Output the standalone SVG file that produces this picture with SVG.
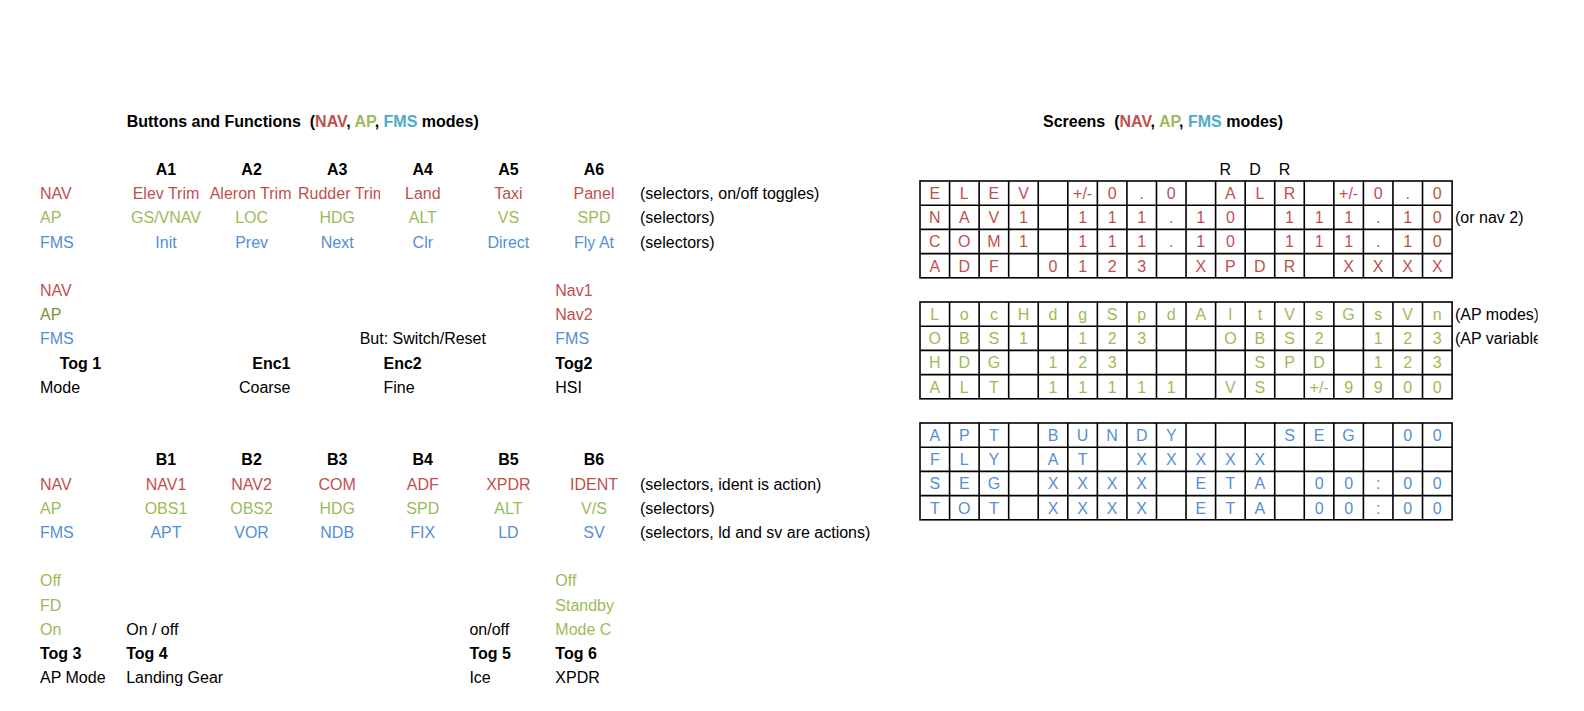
<svg xmlns="http://www.w3.org/2000/svg" xmlns:xlink="http://www.w3.org/1999/xlink" width="1584" height="711" viewBox="0 0 1584 711">
<style>
text{font-family:"Liberation Sans",Arial,sans-serif;font-size:16px}
.b{font-weight:bold}
.r{fill:#C0504D}
.g{fill:#9BBB59}
.dg{fill:#77933C}
.u{fill:#558ED5}
.c{fill:#4BACC6}
.m{text-anchor:middle}
.e{text-anchor:end}
.gl{fill:none;stroke:#000;stroke-width:1.6}
</style>
<defs>
<g id="grid">
<rect class="gl" x="0" y="0" width="532.1" height="96.8"/>
<path class="gl" d="M0 24.2H532.1M0 48.4H532.1M0 72.6H532.1M29.56 0V96.8M59.12 0V96.8M88.68 0V96.8M118.24 0V96.8M147.8 0V96.8M177.36 0V96.8M206.92 0V96.8M236.48 0V96.8M266.04 0V96.8M295.6 0V96.8M325.16 0V96.8M354.72 0V96.8M384.28 0V96.8M413.84 0V96.8M443.4 0V96.8M472.96 0V96.8M502.52 0V96.8"/>
</g>
<clipPath id="cA2"><rect x="208.8" y="180" width="85.6" height="26"/></clipPath>
<clipPath id="cA3"><rect x="294.4" y="180" width="85.6" height="26"/></clipPath>
<clipPath id="cR"><rect x="0" y="0" width="1537.7" height="711"/></clipPath>
</defs>
<rect width="1584" height="711" fill="#fff"/>

<g id="buttons-title">
<text class="b" x="126.7" y="126.6" xml:space="preserve">Buttons and Functions  (<tspan class="r">NAV</tspan>, <tspan class="g">AP</tspan>, <tspan class="c">FMS</tspan> modes)</text>
</g>

<g id="section-a">
<g class="b m">
<text x="166" y="175">A1</text><text x="251.6" y="175">A2</text><text x="337.2" y="175">A3</text><text x="422.8" y="175">A4</text><text x="508.4" y="175">A5</text><text x="594" y="175">A6</text>
</g>
<text class="r" x="40" y="199.2">NAV</text>
<text class="r m" x="166" y="199.2">Elev Trim</text>
<text class="r m" x="250.6" y="199.2" clip-path="url(#cA2)">Aleron Trim</text>
<text class="r" x="298" y="199.2" clip-path="url(#cA3)">Rudder Trim</text>
<text class="r m" x="422.8" y="199.2">Land</text>
<text class="r m" x="508.4" y="199.2">Taxi</text>
<text class="r m" x="594" y="199.2">Panel</text>
<text x="640" y="199.2">(selectors, on/off toggles)</text>
<text class="g" x="40" y="223.4">AP</text>
<text class="g m" x="166" y="223.4">GS/VNAV</text>
<text class="g m" x="251.6" y="223.4">LOC</text>
<text class="g m" x="337.2" y="223.4">HDG</text>
<text class="g m" x="422.8" y="223.4">ALT</text>
<text class="g m" x="508.4" y="223.4">VS</text>
<text class="g m" x="594" y="223.4">SPD</text>
<text x="640" y="223.4">(selectors)</text>
<text class="u" x="40" y="247.6">FMS</text>
<text class="u m" x="166" y="247.6">Init</text>
<text class="u m" x="251.6" y="247.6">Prev</text>
<text class="u m" x="337.2" y="247.6">Next</text>
<text class="u m" x="422.8" y="247.6">Clr</text>
<text class="u m" x="508.4" y="247.6">Direct</text>
<text class="u m" x="594" y="247.6">Fly At</text>
<text x="640" y="247.6">(selectors)</text>
</g>

<g id="section-toggles-1">
<text class="r" x="40" y="296">NAV</text>
<text class="r" x="555.3" y="296">Nav1</text>
<text class="dg" x="40" y="320.2">AP</text>
<text class="r" x="555.3" y="320.2">Nav2</text>
<text class="u" x="40" y="344.4">FMS</text>
<text class="m" x="422.8" y="344.4">But: Switch/Reset</text>
<text class="u" x="555.3" y="344.4">FMS</text>
<text class="b m" x="80.4" y="368.6">Tog 1</text>
<text class="b e" x="290.5" y="368.6">Enc1</text>
<text class="b" x="383.5" y="368.6">Enc2</text>
<text class="b" x="555.3" y="368.6">Tog2</text>
<text x="40" y="392.8">Mode</text>
<text class="e" x="290.5" y="392.8">Coarse</text>
<text x="383.5" y="392.8">Fine</text>
<text x="555.3" y="392.8">HSI</text>
</g>

<g id="section-b">
<g class="b m">
<text x="166" y="465.4">B1</text><text x="251.6" y="465.4">B2</text><text x="337.2" y="465.4">B3</text><text x="422.8" y="465.4">B4</text><text x="508.4" y="465.4">B5</text><text x="594" y="465.4">B6</text>
</g>
<text class="r" x="40" y="489.6">NAV</text>
<text class="r m" x="166" y="489.6">NAV1</text>
<text class="r m" x="251.6" y="489.6">NAV2</text>
<text class="r m" x="337.2" y="489.6">COM</text>
<text class="r m" x="422.8" y="489.6">ADF</text>
<text class="r m" x="508.4" y="489.6">XPDR</text>
<text class="r m" x="594" y="489.6">IDENT</text>
<text x="640" y="489.6">(selectors, ident is action)</text>
<text class="g" x="40" y="513.8">AP</text>
<text class="g m" x="166" y="513.8">OBS1</text>
<text class="g m" x="251.6" y="513.8">OBS2</text>
<text class="g m" x="337.2" y="513.8">HDG</text>
<text class="g m" x="422.8" y="513.8">SPD</text>
<text class="g m" x="508.4" y="513.8">ALT</text>
<text class="g m" x="594" y="513.8">V/S</text>
<text x="640" y="513.8">(selectors)</text>
<text class="u" x="40" y="538">FMS</text>
<text class="u m" x="166" y="538">APT</text>
<text class="u m" x="251.6" y="538">VOR</text>
<text class="u m" x="337.2" y="538">NDB</text>
<text class="u m" x="422.8" y="538">FIX</text>
<text class="u m" x="508.4" y="538">LD</text>
<text class="u m" x="594" y="538">SV</text>
<text x="640" y="538">(selectors, ld and sv are actions)</text>
</g>

<g id="section-toggles-2">
<text class="g" x="40" y="586.4">Off</text>
<text class="g" x="555.3" y="586.4">Off</text>
<text class="g" x="40" y="610.6">FD</text>
<text class="g" x="555.3" y="610.6">Standby</text>
<text class="g" x="40" y="634.8">On</text>
<text x="126.2" y="634.8">On / off</text>
<text x="469.4" y="634.8">on/off</text>
<text class="g" x="555.3" y="634.8">Mode C</text>
<text class="b" x="40" y="659">Tog 3</text>
<text class="b" x="126.2" y="659">Tog 4</text>
<text class="b" x="469.4" y="659">Tog 5</text>
<text class="b" x="555.3" y="659">Tog 6</text>
<text x="40" y="683.2">AP Mode</text>
<text x="126.2" y="683.2">Landing Gear</text>
<text x="469.4" y="683.2">Ice</text>
<text x="555.3" y="683.2">XPDR</text>
</g>

<g id="screens-title">
<text class="b" x="1043" y="126.6" xml:space="preserve">Screens  (<tspan class="r">NAV</tspan>, <tspan class="g">AP</tspan>, <tspan class="c">FMS</tspan> modes)</text>
</g>

<g id="rdr">
<text x="1219.6" y="175">R</text><text x="1249.2" y="175">D</text><text x="1278.7" y="175">R</text>
</g>

<g id="screen-nav">
<use xlink:href="#grid" x="920" y="181"/>
<g class="r m">
<text x="934.8" y="199">E</text><text x="964.3" y="199">L</text><text x="993.9" y="199">E</text><text x="1023.5" y="199">V</text><text x="1082.6" y="199">+/-</text><text x="1112.1" y="199">0</text><text x="1141.7" y="199">.</text><text x="1171.3" y="199">0</text><text x="1230.4" y="199">A</text><text x="1259.9" y="199">L</text><text x="1289.5" y="199">R</text><text x="1348.6" y="199">+/-</text><text x="1378.2" y="199">0</text><text x="1407.7" y="199">.</text><text x="1437.3" y="199">0</text>
<text x="934.8" y="223.2">N</text><text x="964.3" y="223.2">A</text><text x="993.9" y="223.2">V</text><text x="1023.5" y="223.2">1</text><text x="1082.6" y="223.2">1</text><text x="1112.1" y="223.2">1</text><text x="1141.7" y="223.2">1</text><text x="1171.3" y="223.2">.</text><text x="1200.8" y="223.2">1</text><text x="1230.4" y="223.2">0</text><text x="1289.5" y="223.2">1</text><text x="1319.1" y="223.2">1</text><text x="1348.6" y="223.2">1</text><text x="1378.2" y="223.2">.</text><text x="1407.7" y="223.2">1</text><text x="1437.3" y="223.2">0</text>
<text x="934.8" y="247.4">C</text><text x="964.3" y="247.4">O</text><text x="993.9" y="247.4">M</text><text x="1023.5" y="247.4">1</text><text x="1082.6" y="247.4">1</text><text x="1112.1" y="247.4">1</text><text x="1141.7" y="247.4">1</text><text x="1171.3" y="247.4">.</text><text x="1200.8" y="247.4">1</text><text x="1230.4" y="247.4">0</text><text x="1289.5" y="247.4">1</text><text x="1319.1" y="247.4">1</text><text x="1348.6" y="247.4">1</text><text x="1378.2" y="247.4">.</text><text x="1407.7" y="247.4">1</text><text x="1437.3" y="247.4">0</text>
<text x="934.8" y="271.6">A</text><text x="964.3" y="271.6">D</text><text x="993.9" y="271.6">F</text><text x="1053" y="271.6">0</text><text x="1082.6" y="271.6">1</text><text x="1112.1" y="271.6">2</text><text x="1141.7" y="271.6">3</text><text x="1200.8" y="271.6">X</text><text x="1230.4" y="271.6">P</text><text x="1259.9" y="271.6">D</text><text x="1289.5" y="271.6">R</text><text x="1348.6" y="271.6">X</text><text x="1378.2" y="271.6">X</text><text x="1407.7" y="271.6">X</text><text x="1437.3" y="271.6">X</text>
</g>
<text x="1455" y="223.2">(or nav 2)</text>
</g>

<g id="screen-ap">
<use xlink:href="#grid" x="920" y="302"/>
<g class="g m">
<text x="934.8" y="320">L</text><text x="964.3" y="320">o</text><text x="993.9" y="320">c</text><text x="1023.5" y="320">H</text><text x="1053" y="320">d</text><text x="1082.6" y="320">g</text><text x="1112.1" y="320">S</text><text x="1141.7" y="320">p</text><text x="1171.3" y="320">d</text><text x="1200.8" y="320">A</text><text x="1230.4" y="320">l</text><text x="1259.9" y="320">t</text><text x="1289.5" y="320">V</text><text x="1319.1" y="320">s</text><text x="1348.6" y="320">G</text><text x="1378.2" y="320">s</text><text x="1407.7" y="320">V</text><text x="1437.3" y="320">n</text>
<text x="934.8" y="344.2">O</text><text x="964.3" y="344.2">B</text><text x="993.9" y="344.2">S</text><text x="1023.5" y="344.2">1</text><text x="1082.6" y="344.2">1</text><text x="1112.1" y="344.2">2</text><text x="1141.7" y="344.2">3</text><text x="1230.4" y="344.2">O</text><text x="1259.9" y="344.2">B</text><text x="1289.5" y="344.2">S</text><text x="1319.1" y="344.2">2</text><text x="1378.2" y="344.2">1</text><text x="1407.7" y="344.2">2</text><text x="1437.3" y="344.2">3</text>
<text x="934.8" y="368.4">H</text><text x="964.3" y="368.4">D</text><text x="993.9" y="368.4">G</text><text x="1053" y="368.4">1</text><text x="1082.6" y="368.4">2</text><text x="1112.1" y="368.4">3</text><text x="1259.9" y="368.4">S</text><text x="1289.5" y="368.4">P</text><text x="1319.1" y="368.4">D</text><text x="1378.2" y="368.4">1</text><text x="1407.7" y="368.4">2</text><text x="1437.3" y="368.4">3</text>
<text x="934.8" y="392.6">A</text><text x="964.3" y="392.6">L</text><text x="993.9" y="392.6">T</text><text x="1053" y="392.6">1</text><text x="1082.6" y="392.6">1</text><text x="1112.1" y="392.6">1</text><text x="1141.7" y="392.6">1</text><text x="1171.3" y="392.6">1</text><text x="1230.4" y="392.6">V</text><text x="1259.9" y="392.6">S</text><text x="1319.1" y="392.6">+/-</text><text x="1348.6" y="392.6">9</text><text x="1378.2" y="392.6">9</text><text x="1407.7" y="392.6">0</text><text x="1437.3" y="392.6">0</text>
</g>
<text x="1455" y="320" clip-path="url(#cR)">(AP modes)</text>
<text x="1455" y="344.2" clip-path="url(#cR)">(AP variable</text>
</g>

<g id="screen-fms">
<use xlink:href="#grid" x="920" y="423"/>
<g class="u m">
<text x="934.8" y="441">A</text><text x="964.3" y="441">P</text><text x="993.9" y="441">T</text><text x="1053" y="441">B</text><text x="1082.6" y="441">U</text><text x="1112.1" y="441">N</text><text x="1141.7" y="441">D</text><text x="1171.3" y="441">Y</text><text x="1289.5" y="441">S</text><text x="1319.1" y="441">E</text><text x="1348.6" y="441">G</text><text x="1407.7" y="441">0</text><text x="1437.3" y="441">0</text>
<text x="934.8" y="465.2">F</text><text x="964.3" y="465.2">L</text><text x="993.9" y="465.2">Y</text><text x="1053" y="465.2">A</text><text x="1082.6" y="465.2">T</text><text x="1141.7" y="465.2">X</text><text x="1171.3" y="465.2">X</text><text x="1200.8" y="465.2">X</text><text x="1230.4" y="465.2">X</text><text x="1259.9" y="465.2">X</text>
<text x="934.8" y="489.4">S</text><text x="964.3" y="489.4">E</text><text x="993.9" y="489.4">G</text><text x="1053" y="489.4">X</text><text x="1082.6" y="489.4">X</text><text x="1112.1" y="489.4">X</text><text x="1141.7" y="489.4">X</text><text x="1200.8" y="489.4">E</text><text x="1230.4" y="489.4">T</text><text x="1259.9" y="489.4">A</text><text x="1319.1" y="489.4">0</text><text x="1348.6" y="489.4">0</text><text x="1378.2" y="489.4">:</text><text x="1407.7" y="489.4">0</text><text x="1437.3" y="489.4">0</text>
<text x="934.8" y="513.6">T</text><text x="964.3" y="513.6">O</text><text x="993.9" y="513.6">T</text><text x="1053" y="513.6">X</text><text x="1082.6" y="513.6">X</text><text x="1112.1" y="513.6">X</text><text x="1141.7" y="513.6">X</text><text x="1200.8" y="513.6">E</text><text x="1230.4" y="513.6">T</text><text x="1259.9" y="513.6">A</text><text x="1319.1" y="513.6">0</text><text x="1348.6" y="513.6">0</text><text x="1378.2" y="513.6">:</text><text x="1407.7" y="513.6">0</text><text x="1437.3" y="513.6">0</text>
</g>
</g>
</svg>
